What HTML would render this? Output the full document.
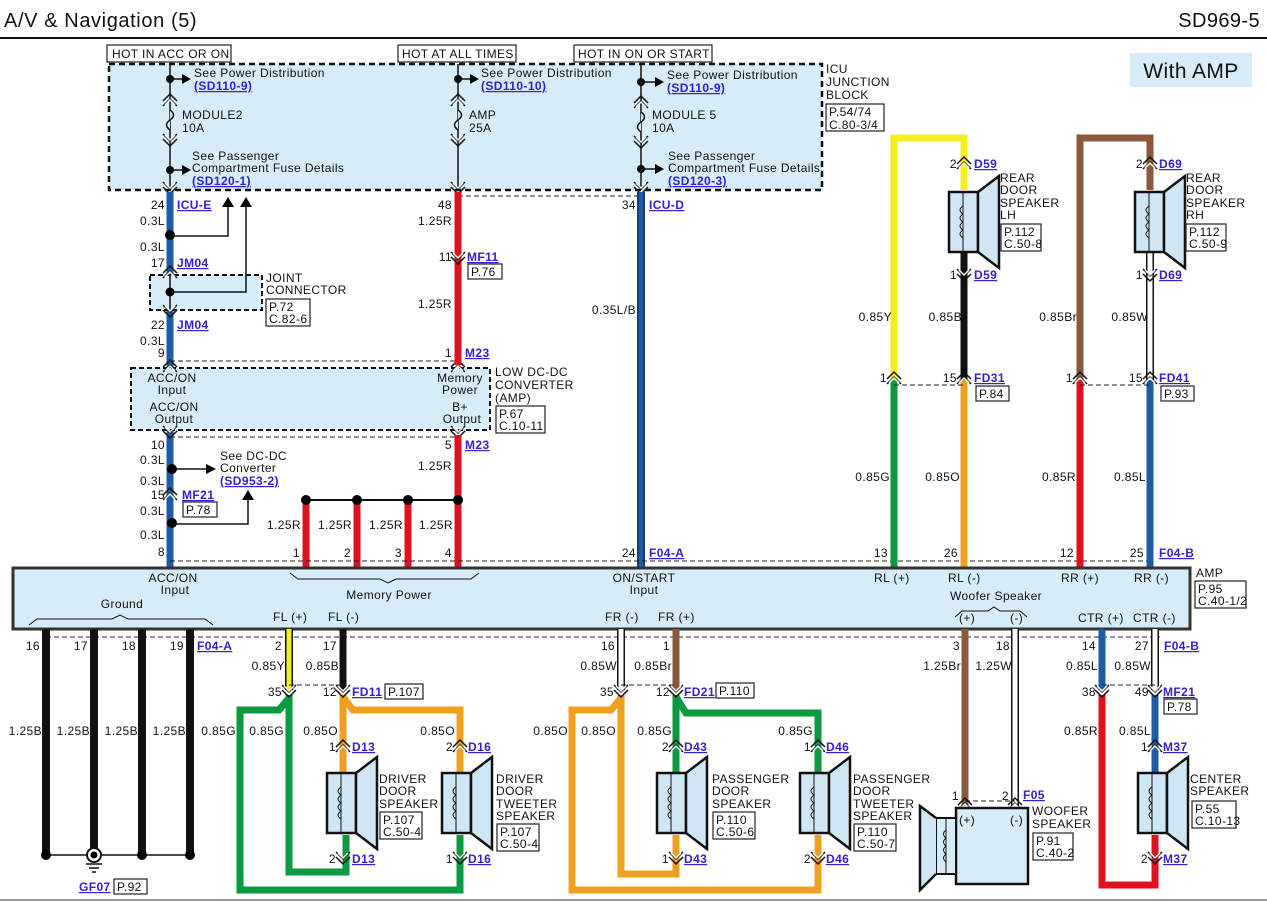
<!DOCTYPE html>
<html><head><meta charset="utf-8"><style>
body{margin:0;background:#fff}
svg{display:block}
text{font-family:"Liberation Sans",sans-serif;font-size:12px;fill:#111;letter-spacing:.4px}
.l{fill:#3322cc;font-weight:bold;text-decoration:underline}
.c{text-anchor:middle}
.r{text-anchor:end}
.box{fill:#d6ecf8}
.w{fill:none;stroke-width:7;stroke-linejoin:miter}
.thin{fill:none;stroke:#111;stroke-width:1.5}
.dash{fill:none;stroke:#222;stroke-width:1;stroke-dasharray:5,3}
.ref{fill:#fff;stroke:#222;stroke-width:1.2}
</style></head><body>
<svg width="1267" height="903" viewBox="0 0 1267 903" xmlns="http://www.w3.org/2000/svg">
<defs>
<g id="dn"><path d="M-7,-6 L0,1 L7,-6 M-7,-1 L0,6 L7,-1" stroke="#111" stroke-width="1.5" fill="none"/><path d="M-5,-5 L0,0 L5,-5" stroke="#fff" stroke-width="1.5" fill="none"/></g>
<g id="up"><path d="M-7,6 L0,-1 L7,6 M-7,1 L0,-6 L7,1" stroke="#111" stroke-width="1.5" fill="none"/><path d="M-5,5 L0,0 L5,5" stroke="#fff" stroke-width="1.5" fill="none"/></g>
<g id="spk"><rect x="0" y="0" width="29" height="60" fill="#cfe6f5" stroke="#111" stroke-width="2.5"/><line x1="14" y1="0" x2="14" y2="60" stroke="#111"/><path d="M14,14 q-6,4 0,8 q-6,4 0,8 q-6,4 0,8 q-6,4 0,8" fill="none" stroke="#111"/><path d="M29,0 L50,-16 L50,76 L29,60Z" fill="#cfe6f5" stroke="#111" stroke-width="2.5"/></g>
</defs>

<!-- header -->
<text x="4" y="27" style="font-size:20px;letter-spacing:.6px">A/V &amp; Navigation (5)</text>
<text x="1260" y="27" class="r" style="font-size:20px">SD969-5</text>
<line x1="0" y1="38" x2="1267" y2="38" stroke="#111" stroke-width="2"/>
<rect x="1130" y="53" width="122" height="34" fill="#d6ecf8"/>
<text x="1191" y="78" class="c" style="font-size:21px">With AMP</text>

<!-- ICU junction block -->
<rect x="109" y="64" width="713" height="126" class="box"/>
<rect x="109" y="64" width="713" height="126" fill="none" stroke="#111" stroke-width="2.5" stroke-dasharray="6,4"/>
<rect x="107" y="45" width="124" height="17" class="ref"/><text x="112" y="58">HOT IN ACC OR ON</text>
<rect x="398" y="45" width="118" height="17" class="ref"/><text x="402" y="58">HOT AT ALL TIMES</text>
<rect x="574" y="45" width="138" height="17" class="ref"/><text x="578" y="58">HOT IN ON OR START</text>
<text x="826" y="73">ICU</text><text x="826" y="86">JUNCTION</text><text x="826" y="99">BLOCK</text>
<rect x="826" y="104" width="58" height="27" class="ref"/><text x="829" y="116">P.54/74</text><text x="829" y="129">C.80-3/4</text>

<!-- fuse columns -->
<g>
<line x1="170" y1="64" x2="170" y2="190" stroke="#111" stroke-width="1.5"/>
<circle cx="170" cy="79" r="4"/><path d="M170,79 H182" stroke="#111" stroke-width="1.5"/><path d="M182,74 L191,79 L182,84Z"/>
<circle cx="170" cy="170" r="4"/><path d="M170,170 H182" stroke="#111" stroke-width="1.5"/><path d="M182,165 L191,170 L182,175Z"/>
<path d="M170,110 q7,5 0,10 q-7,5 0,10" fill="#d6ecf8" stroke="#111" stroke-width="1.5"/>
<text x="194" y="77">See Power Distribution</text><text x="194" y="90" class="l">(SD110-9)</text>
<text x="182" y="119">MODULE2</text><text x="182" y="132">10A</text>
<text x="192" y="160">See Passenger</text><text x="192" y="172">Compartment Fuse Details</text><text x="192" y="185" class="l">(SD120-1)</text>
</g>
<g>
<line x1="458" y1="64" x2="458" y2="190" stroke="#111" stroke-width="1.5"/>
<circle cx="458" cy="79" r="4"/><path d="M458,79 H470" stroke="#111" stroke-width="1.5"/><path d="M470,74 L479,79 L470,84Z"/>
<path d="M458,110 q7,5 0,10 q-7,5 0,10" fill="#d6ecf8" stroke="#111" stroke-width="1.5"/>
<text x="481" y="77">See Power Distribution</text><text x="481" y="90" class="l">(SD110-10)</text>
<text x="469" y="119">AMP</text><text x="469" y="132">25A</text>
</g>
<g>
<line x1="641" y1="64" x2="641" y2="190" stroke="#111" stroke-width="1.5"/>
<circle cx="641" cy="82" r="4"/><path d="M641,82 H655" stroke="#111" stroke-width="1.5"/><path d="M655,77 L664,82 L655,87Z"/>
<circle cx="641" cy="169" r="4"/><path d="M641,169 H655" stroke="#111" stroke-width="1.5"/><path d="M655,164 L664,169 L655,174Z"/>
<path d="M641,112 q7,5 0,10 q-7,5 0,10" fill="#d6ecf8" stroke="#111" stroke-width="1.5"/>
<text x="667" y="79">See Power Distribution</text><text x="667" y="92" class="l">(SD110-9)</text>
<text x="652" y="119">MODULE 5</text><text x="652" y="132">10A</text>
<text x="668" y="160">See Passenger</text><text x="668" y="172">Compartment Fuse Details</text><text x="668" y="185" class="l">(SD120-3)</text>
</g>
<use href="#up" x="170" y="100"/><use href="#dn" x="170" y="140"/><use href="#dn" x="170" y="188"/>
<use href="#up" x="458" y="100"/><use href="#dn" x="458" y="140"/><use href="#dn" x="458" y="188"/>
<use href="#up" x="641" y="102"/><use href="#dn" x="641" y="142"/><use href="#dn" x="641" y="188"/>
<line x1="458" y1="196" x2="641" y2="196" class="dash"/>

<!-- left blue column -->
<line x1="170" y1="192" x2="170" y2="568" class="w" stroke="#1f5aa6"/>
<rect x="150" y="275" width="112" height="35" class="box"/>
<rect x="150" y="275" width="112" height="35" fill="none" stroke="#111" stroke-width="2" stroke-dasharray="5,3"/>
<line x1="170" y1="275" x2="170" y2="310" stroke="#111" stroke-width="1.5"/>
<circle cx="170" cy="235" r="5"/><path d="M170,236 H228 V205" class="thin"/><path d="M222,207 L228,197 L234,207Z"/>
<circle cx="170" cy="292" r="4.5"/><path d="M170,292 H246 V205" class="thin"/><path d="M240,207 L246,197 L252,207Z"/>
<use href="#up" x="170" y="272"/><use href="#dn" x="170" y="311"/>
<text x="165" y="209" class="r">24</text><text x="177" y="209" class="l">ICU-E</text>
<text x="165" y="225" class="r">0.3L</text><text x="165" y="251" class="r">0.3L</text>
<text x="165" y="267" class="r">17</text><text x="177" y="267" class="l">JM04</text>
<text x="266" y="282">JOINT</text><text x="266" y="294">CONNECTOR</text>
<rect x="266" y="299" width="44" height="27" class="ref"/><text x="269" y="311">P.72</text><text x="269" y="323">C.82-6</text>
<text x="165" y="329" class="r">22</text><text x="177" y="329" class="l">JM04</text>
<text x="165" y="345" class="r">0.3L</text><text x="165" y="357" class="r">9</text>

<!-- DC-DC converter -->
<rect x="131" y="368" width="359" height="62" class="box"/>
<rect x="131" y="368" width="359" height="62" fill="none" stroke="#111" stroke-width="2" stroke-dasharray="5,3"/>
<line x1="170" y1="361" x2="458" y2="361" class="dash"/><line x1="170" y1="437" x2="458" y2="437" class="dash"/>
<use href="#up" x="170" y="366"/><use href="#dn" x="170" y="432"/><use href="#up" x="458" y="366"/><use href="#dn" x="458" y="432"/>
<text x="172" y="382" class="c">ACC/ON</text><text x="172" y="394" class="c">Input</text>
<text x="174" y="411" class="c">ACC/ON</text><text x="174" y="423" class="c">Output</text>
<text x="460" y="382" class="c">Memory</text><text x="460" y="394" class="c">Power</text>
<text x="460" y="411" class="c">B+</text><text x="462" y="423" class="c">Output</text>
<text x="495" y="376">LOW DC-DC</text><text x="495" y="389">CONVERTER</text><text x="495" y="402">(AMP)</text>
<rect x="496" y="406" width="49" height="27" class="ref"/><text x="499" y="418">P.67</text><text x="499" y="430">C.10-11</text>
<text x="165" y="449" class="r">10</text><text x="165" y="464" class="r">0.3L</text>
<circle cx="172" cy="469" r="5"/><path d="M172,469 H208" class="thin"/><path d="M206,464 L216,469 L206,474Z"/>
<text x="220" y="460">See DC-DC</text><text x="220" y="472">Converter</text><text x="220" y="485" class="l">(SD953-2)</text>
<text x="165" y="485" class="r">0.3L</text><use href="#up" x="170" y="494"/>
<text x="165" y="499" class="r">15</text><text x="182" y="499" class="l">MF21</text>
<rect x="183" y="502" width="34" height="15" class="ref"/><text x="186" y="514">P.78</text>
<text x="165" y="515" class="r">0.3L</text>
<circle cx="172" cy="523" r="5"/><path d="M172,524 H248 V498" class="thin"/><path d="M242,500 L248,490 L254,500Z"/>
<text x="165" y="539" class="r">0.3L</text><text x="165" y="556" class="r">8</text>

<!-- red memory column -->
<line x1="458" y1="192" x2="458" y2="365" class="w" stroke="#e0101f"/>
<line x1="458" y1="435" x2="458" y2="568" class="w" stroke="#e0101f"/>
<use href="#dn" x="458" y="258"/>
<text x="452" y="209" class="r">48</text><text x="452" y="225" class="r">1.25R</text>
<text x="452" y="261" class="r">11</text><text x="467" y="261" class="l">MF11</text>
<rect x="468" y="264" width="34" height="15" class="ref"/><text x="471" y="276">P.76</text>
<text x="452" y="308" class="r">1.25R</text>
<text x="452" y="357" class="r">1</text><text x="465" y="357" class="l">M23</text>
<text x="452" y="449" class="r">5</text><text x="465" y="449" class="l">M23</text>
<text x="452" y="470" class="r">1.25R</text>
<line x1="306" y1="500" x2="458" y2="500" stroke="#111" stroke-width="2"/>
<line x1="306" y1="500" x2="306" y2="568" class="w" stroke="#e0101f"/>
<line x1="357" y1="500" x2="357" y2="568" class="w" stroke="#e0101f"/>
<line x1="408" y1="500" x2="408" y2="568" class="w" stroke="#e0101f"/>
<circle cx="306" cy="500" r="5"/><circle cx="357" cy="500" r="5"/><circle cx="408" cy="500" r="5"/><circle cx="458" cy="500" r="5"/>
<text x="301" y="529" class="r">1.25R</text><text x="352" y="529" class="r">1.25R</text><text x="403" y="529" class="r">1.25R</text><text x="453" y="529" class="r">1.25R</text>
<text x="300" y="557" class="r">1</text><text x="351" y="557" class="r">2</text><text x="402" y="557" class="r">3</text><text x="452" y="557" class="r">4</text>

<!-- ICU-D column -->
<line x1="641" y1="192" x2="641" y2="568" stroke="#1a3d80" stroke-width="8"/>
<line x1="641" y1="192" x2="641" y2="568" stroke="#1f5aa6" stroke-width="4"/>
<text x="636" y="209" class="r">34</text><text x="649" y="209" class="l">ICU-D</text>
<text x="636" y="314" class="r">0.35L/B</text>
<text x="636" y="557" class="r">24</text><text x="649" y="557" class="l">F04-A</text>
<line x1="170" y1="561" x2="1150" y2="561" class="dash"/>

<!-- rear LH -->
<path d="M894,380 V138 H964 V190" class="w" stroke="#111" stroke-width="9"/>
<path d="M894,380 V138 H964 V190" class="w" stroke="#f5ef20" stroke-width="5.5"/>
<line x1="964" y1="250" x2="964" y2="380" class="w" stroke="#111"/>
<line x1="894" y1="380" x2="894" y2="568" class="w" stroke="#0a9a40"/>
<line x1="964" y1="380" x2="964" y2="568" class="w" stroke="#f0a020"/>
<use href="#spk" x="949" y="192"/>
<use href="#up" x="964" y="163"/><use href="#dn" x="964" y="275"/>
<text x="957" y="168" class="r">2</text><text x="974" y="168" class="l">D59</text>
<text x="1000" y="182">REAR</text><text x="1000" y="194">DOOR</text><text x="1000" y="207">SPEAKER</text><text x="1000" y="219">LH</text>
<rect x="1001" y="224" width="40" height="27" class="ref"/><text x="1004" y="236">P.112</text><text x="1004" y="248">C.50-8</text>
<text x="957" y="279" class="r">1</text><text x="974" y="279" class="l">D59</text>
<text x="892" y="321" class="r">0.85Y</text><text x="962" y="321" class="r">0.85B</text>
<line x1="894" y1="385" x2="964" y2="385" class="dash"/>
<use href="#up" x="894" y="378"/><use href="#up" x="964" y="378"/>
<text x="887" y="382" class="r">1</text><text x="957" y="382" class="r">15</text><text x="974" y="382" class="l">FD31</text>
<rect x="976" y="386" width="33" height="15" class="ref"/><text x="979" y="398">P.84</text>
<text x="890" y="481" class="r">0.85G</text><text x="960" y="481" class="r">0.85O</text>
<text x="888" y="557" class="r">13</text><text x="958" y="557" class="r">26</text>

<!-- rear RH -->
<path d="M1080,380 V138 H1150 V190" class="w" stroke="#8b5a3c"/>
<line x1="1150" y1="250" x2="1150" y2="380" stroke="#111" stroke-width="8"/>
<line x1="1150" y1="250" x2="1150" y2="380" stroke="#fff" stroke-width="5"/>
<line x1="1080" y1="380" x2="1080" y2="568" class="w" stroke="#e0101f"/>
<line x1="1150" y1="380" x2="1150" y2="568" class="w" stroke="#1f5aa6"/>
<use href="#spk" x="1135" y="192"/>
<use href="#up" x="1150" y="163"/><use href="#dn" x="1150" y="275"/>
<text x="1143" y="168" class="r">2</text><text x="1159" y="168" class="l">D69</text>
<text x="1186" y="182">REAR</text><text x="1186" y="194">DOOR</text><text x="1186" y="207">SPEAKER</text><text x="1186" y="219">RH</text>
<rect x="1186" y="224" width="40" height="27" class="ref"/><text x="1189" y="236">P.112</text><text x="1189" y="248">C.50-9</text>
<text x="1143" y="279" class="r">1</text><text x="1159" y="279" class="l">D69</text>
<text x="1077" y="321" class="r">0.85Br</text><text x="1148" y="321" class="r">0.85W</text>
<line x1="1080" y1="385" x2="1150" y2="385" class="dash"/>
<use href="#up" x="1080" y="378"/><use href="#up" x="1150" y="378"/>
<text x="1073" y="382" class="r">1</text><text x="1143" y="382" class="r">15</text><text x="1159" y="382" class="l">FD41</text>
<rect x="1161" y="386" width="33" height="15" class="ref"/><text x="1164" y="398">P.93</text>
<text x="1076" y="481" class="r">0.85R</text><text x="1146" y="481" class="r">0.85L</text>
<text x="1074" y="557" class="r">12</text><text x="1144" y="557" class="r">25</text><text x="1159" y="557" class="l">F04-B</text>

<!-- AMP box -->
<rect x="13" y="568" width="1177" height="61" class="box" stroke="#333" stroke-width="3"/>
<text x="173" y="582" class="c">ACC/ON</text><text x="175" y="594" class="c">Input</text>
<text x="644" y="582" class="c">ON/START</text><text x="644" y="594" class="c">Input</text>
<text x="389" y="599" class="c">Memory Power</text>
<path d="M290,573 l8,6 h82 l8,4 l8,-4 h75 l8,-6" fill="none" stroke="#111"/>
<text x="122" y="608" class="c">Ground</text>
<path d="M29,625 l8,-6 h75 l8,-4 l8,4 h77 l8,6" fill="none" stroke="#111"/>
<text x="273" y="621">FL (+)</text><text x="328" y="621">FL (-)</text>
<text x="605" y="621">FR (-)</text><text x="658" y="621">FR (+)</text>
<text x="874" y="582">RL (+)</text><text x="948" y="582">RL (-)</text>
<text x="1061" y="582">RR (+)</text><text x="1134" y="582">RR (-)</text>
<text x="996" y="600" class="c">Woofer Speaker</text>
<path d="M955,617 l7,-6 h26 l6,-4 l6,4 h20 l7,6" fill="none" stroke="#111"/>
<text x="959" y="622">(+)</text><text x="1010" y="622">(-)</text>
<text x="1078" y="622">CTR (+)</text><text x="1133" y="622">CTR (-)</text>
<text x="1196" y="577">AMP</text>
<rect x="1195" y="581" width="51" height="27" class="ref"/><text x="1198" y="593">P.95</text><text x="1198" y="605">C.40-1/2</text>
<line x1="46" y1="637" x2="1160" y2="637" class="dash"/>

<!-- ground -->
<g stroke="#111" stroke-width="8"><line x1="46" y1="629" x2="46" y2="855"/><line x1="94" y1="629" x2="94" y2="855"/><line x1="142" y1="629" x2="142" y2="855"/><line x1="190" y1="629" x2="190" y2="855"/></g>
<line x1="46" y1="855" x2="190" y2="855" stroke="#111" stroke-width="1.5"/>
<circle cx="46" cy="855" r="5"/><circle cx="142" cy="855" r="5"/><circle cx="190" cy="855" r="5"/>
<circle cx="94" cy="855" r="7" fill="#fff" stroke="#111" stroke-width="2"/><circle cx="94" cy="855" r="3.5"/>
<path d="M86,864 h16 M89,868 h10 M92,872 h4" stroke="#111" stroke-width="1.5"/>
<text x="40" y="650" class="r">16</text><text x="88" y="650" class="r">17</text><text x="136" y="650" class="r">18</text><text x="184" y="650" class="r">19</text><text x="197" y="650" class="l">F04-A</text>
<text x="42" y="735" class="r">1.25B</text><text x="90" y="735" class="r">1.25B</text><text x="138" y="735" class="r">1.25B</text><text x="186" y="735" class="r">1.25B</text><text x="236" y="735" class="r">0.85G</text>
<text x="79" y="891" class="l">GF07</text><rect x="114" y="879" width="33" height="15" class="ref"/><text x="117" y="891">P.92</text>

<!-- FL -->
<line x1="289" y1="629" x2="289" y2="690" stroke="#111" stroke-width="8"/>
<line x1="289" y1="629" x2="289" y2="690" stroke="#f5ef20" stroke-width="5"/>
<line x1="343" y1="629" x2="343" y2="690" class="w" stroke="#111"/>
<path d="M289,695 V872 H346 V835" class="w" stroke="#0a9a40"/>
<path d="M289,698 l-10,12 H240 V890 H460 V835" class="w" stroke="#0a9a40"/>
<path d="M343,695 V775" class="w" stroke="#f0a020"/>
<path d="M343,697 l10,13 H460 V775" class="w" stroke="#f0a020"/>
<use href="#spk" x="327" y="773"/><use href="#spk" x="442" y="773"/>
<use href="#dn" x="289" y="691"/><use href="#dn" x="343" y="691"/><line x1="289" y1="685" x2="343" y2="685" class="dash"/>
<use href="#up" x="343" y="746"/><use href="#up" x="460" y="746"/><use href="#dn" x="343" y="858"/><use href="#dn" x="460" y="858"/>
<text x="282" y="650" class="r">2</text><text x="337" y="650" class="r">17</text>
<text x="285" y="670" class="r">0.85Y</text><text x="339" y="670" class="r">0.85B</text>
<text x="282" y="696" class="r">35</text><text x="337" y="696" class="r">12</text><text x="352" y="696" class="l">FD11</text>
<rect x="385" y="684" width="38" height="15" class="ref"/><text x="388" y="696">P.107</text>
<text x="284" y="735" class="r">0.85G</text><text x="338" y="735" class="r">0.85O</text><text x="455" y="735" class="r">0.85O</text>
<text x="336" y="751" class="r">1</text><text x="352" y="751" class="l">D13</text><text x="453" y="751" class="r">2</text><text x="468" y="751" class="l">D16</text>
<text x="379" y="783">DRIVER</text><text x="379" y="795">DOOR</text><text x="379" y="808">SPEAKER</text>
<rect x="380" y="812" width="42" height="27" class="ref"/><text x="383" y="824">P.107</text><text x="383" y="836">C.50-4</text>
<text x="496" y="783">DRIVER</text><text x="496" y="795">DOOR</text><text x="496" y="808">TWEETER</text><text x="496" y="820">SPEAKER</text>
<rect x="497" y="824" width="42" height="27" class="ref"/><text x="500" y="836">P.107</text><text x="500" y="848">C.50-4</text>
<text x="336" y="863" class="r">2</text><text x="352" y="863" class="l">D13</text><text x="453" y="863" class="r">1</text><text x="468" y="863" class="l">D16</text>

<!-- FR -->
<line x1="621" y1="629" x2="621" y2="690" stroke="#111" stroke-width="8"/>
<line x1="621" y1="629" x2="621" y2="690" stroke="#fff" stroke-width="5"/>
<line x1="676" y1="629" x2="676" y2="690" class="w" stroke="#8b5a3c"/>
<path d="M621,695 V874 H676 V835" class="w" stroke="#f0a020"/>
<path d="M621,698 l-10,12 H572 V890 H818 V835" class="w" stroke="#f0a020"/>
<path d="M676,695 V775" class="w" stroke="#0a9a40"/>
<path d="M676,697 l10,16 H818 V775" class="w" stroke="#0a9a40"/>
<use href="#spk" x="657" y="773"/><use href="#spk" x="800" y="773"/>
<use href="#dn" x="621" y="691"/><use href="#dn" x="676" y="691"/><line x1="621" y1="685" x2="676" y2="685" class="dash"/>
<use href="#up" x="676" y="746"/><use href="#up" x="818" y="746"/><use href="#dn" x="676" y="858"/><use href="#dn" x="818" y="858"/>
<text x="615" y="650" class="r">16</text><text x="670" y="650" class="r">1</text>
<text x="617" y="670" class="r">0.85W</text><text x="672" y="670" class="r">0.85Br</text>
<text x="614" y="696" class="r">35</text><text x="670" y="696" class="r">12</text><text x="684" y="696" class="l">FD21</text>
<rect x="716" y="683" width="38" height="15" class="ref"/><text x="719" y="695">P.110</text>
<text x="568" y="735" class="r">0.85O</text><text x="616" y="735" class="r">0.85O</text><text x="672" y="735" class="r">0.85G</text><text x="813" y="735" class="r">0.85G</text>
<text x="669" y="751" class="r">2</text><text x="684" y="751" class="l">D43</text><text x="811" y="751" class="r">1</text><text x="826" y="751" class="l">D46</text>
<text x="712" y="783">PASSENGER</text><text x="712" y="795">DOOR</text><text x="712" y="808">SPEAKER</text>
<rect x="713" y="812" width="42" height="27" class="ref"/><text x="716" y="824">P.110</text><text x="716" y="836">C.50-6</text>
<text x="853" y="783">PASSENGER</text><text x="853" y="795">DOOR</text><text x="853" y="808">TWEETER</text><text x="853" y="820">SPEAKER</text>
<rect x="854" y="824" width="42" height="27" class="ref"/><text x="857" y="836">P.110</text><text x="857" y="848">C.50-7</text>
<text x="669" y="863" class="r">1</text><text x="684" y="863" class="l">D43</text><text x="811" y="863" class="r">2</text><text x="826" y="863" class="l">D46</text>

<!-- woofer -->
<line x1="965" y1="629" x2="965" y2="806" class="w" stroke="#8b5a3c"/>
<line x1="1015" y1="629" x2="1015" y2="806" stroke="#111" stroke-width="8"/>
<line x1="1015" y1="629" x2="1015" y2="806" stroke="#fff" stroke-width="5"/>
<line x1="965" y1="801" x2="1015" y2="801" class="dash"/>
<use href="#up" x="965" y="804"/><use href="#up" x="1015" y="804"/>
<rect x="956" y="808" width="72" height="76" class="box" stroke="#111" stroke-width="2.5"/>
<rect x="936" y="818" width="20" height="56" class="box" stroke="#111" stroke-width="2"/>
<line x1="946" y1="818" x2="946" y2="874" stroke="#111"/>
<path d="M936,818 L920,806 L920,890 L936,874" fill="#cfe6f5" stroke="#111" stroke-width="2.5"/>
<path d="M946,830 q-5,4 0,8 q-5,4 0,8 q-5,4 0,8 q-5,4 0,8" fill="none" stroke="#111"/>
<text x="959" y="824">(+)</text><text x="1010" y="824">(-)</text>
<text x="960" y="650" class="r">3</text><text x="1010" y="650" class="r">18</text>
<text x="961" y="670" class="r">1.25Br</text><text x="1012" y="670" class="r">1.25W</text>
<text x="959" y="800" class="r">1</text><text x="1009" y="800" class="r">2</text><text x="1023" y="799" class="l">F05</text>
<text x="1032" y="815">WOOFER</text><text x="1032" y="828">SPEAKER</text>
<rect x="1033" y="833" width="40" height="27" class="ref"/><text x="1036" y="845">P.91</text><text x="1036" y="857">C.40-2</text>

<!-- center -->
<line x1="1102" y1="629" x2="1102" y2="690" class="w" stroke="#1f5aa6"/>
<line x1="1155" y1="629" x2="1155" y2="690" stroke="#111" stroke-width="8"/>
<line x1="1155" y1="629" x2="1155" y2="690" stroke="#fff" stroke-width="5"/>
<path d="M1102,695 V885 H1155 V835" class="w" stroke="#e0101f"/>
<line x1="1155" y1="695" x2="1155" y2="775" class="w" stroke="#1f5aa6"/>
<use href="#spk" x="1138" y="773"/>
<use href="#dn" x="1102" y="691"/><use href="#dn" x="1155" y="691"/><line x1="1102" y1="685" x2="1155" y2="685" class="dash"/>
<use href="#up" x="1155" y="746"/><use href="#dn" x="1155" y="858"/>
<text x="1096" y="650" class="r">14</text><text x="1149" y="650" class="r">27</text><text x="1164" y="650" class="l">F04-B</text>
<text x="1098" y="670" class="r">0.85L</text><text x="1151" y="670" class="r">0.85W</text>
<text x="1096" y="696" class="r">38</text><text x="1149" y="696" class="r">49</text><text x="1163" y="696" class="l">MF21</text>
<rect x="1164" y="699" width="33" height="15" class="ref"/><text x="1167" y="711">P.78</text>
<text x="1098" y="735" class="r">0.85R</text><text x="1151" y="735" class="r">0.85L</text>
<text x="1148" y="751" class="r">1</text><text x="1163" y="751" class="l">M37</text>
<text x="1190" y="783">CENTER</text><text x="1190" y="795">SPEAKER</text>
<rect x="1192" y="801" width="44" height="27" class="ref"/><text x="1195" y="813">P.55</text><text x="1195" y="825">C.10-13</text>
<text x="1148" y="863" class="r">2</text><text x="1163" y="863" class="l">M37</text>
<line x1="0" y1="900" x2="1267" y2="900" stroke="#999" stroke-width="2"/>
</svg>
</body></html>
